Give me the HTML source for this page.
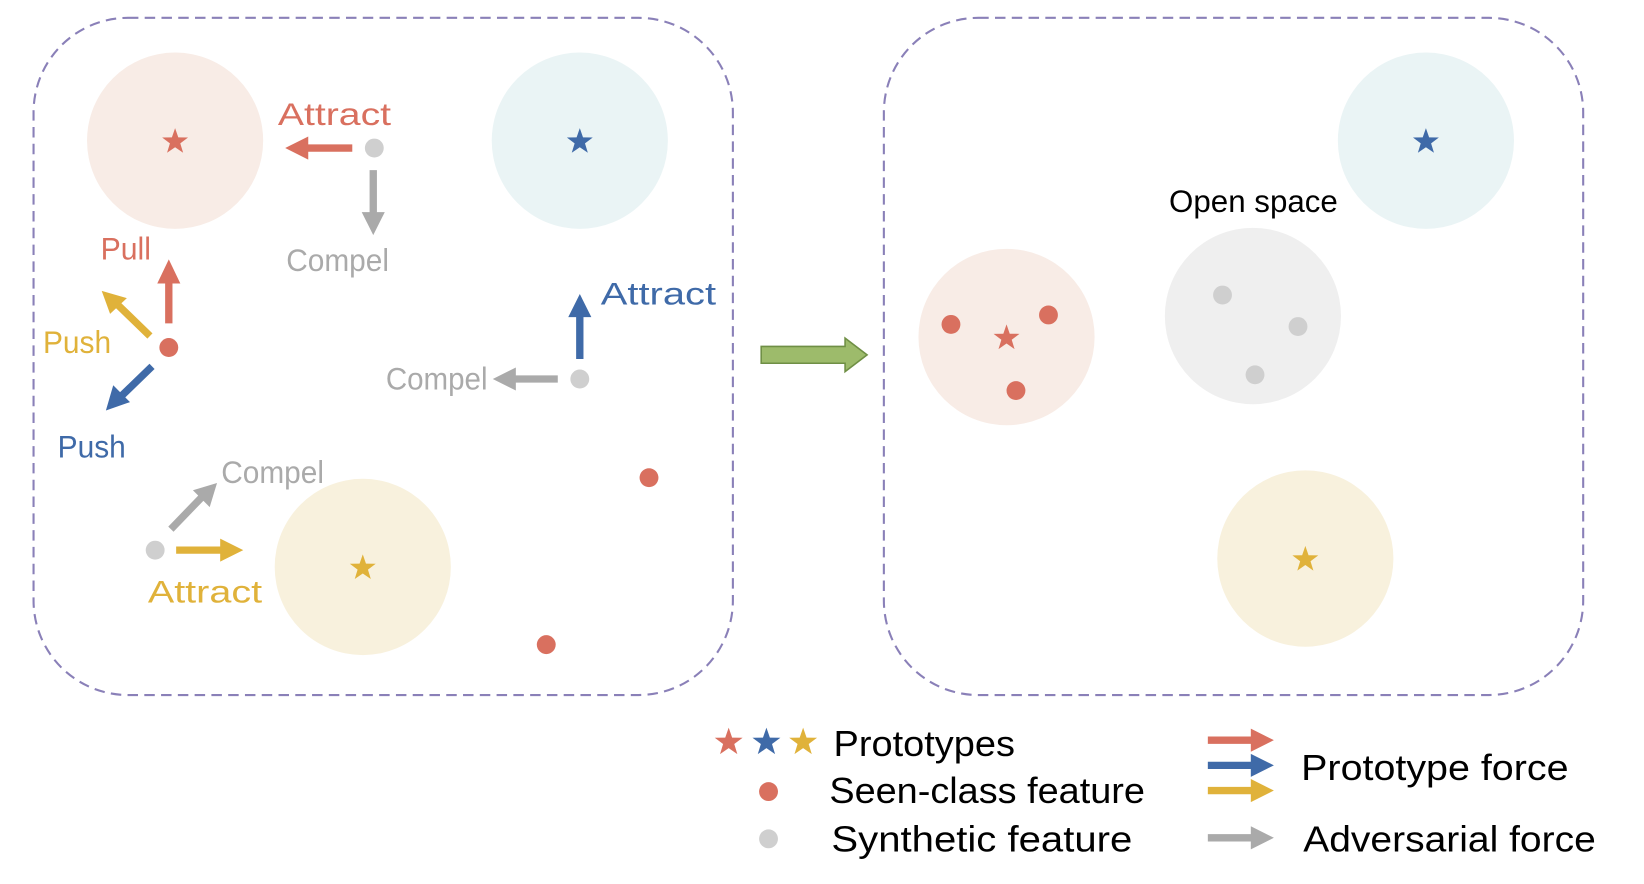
<!DOCTYPE html>
<html><head><style>
html,body{margin:0;padding:0;background:#fff;}
svg{display:block;}
text{font-family:"Liberation Sans Narrow","Liberation Sans",sans-serif;}
</style></head><body>
<svg width="1644" height="884" viewBox="0 0 1568 842" preserveAspectRatio="none" xmlns="http://www.w3.org/2000/svg">
<defs>
<symbol id="st" viewBox="-10 -10 20 20"><polygon points="0,-10 2.35,-3.2 9.5,-3.1 3.8,1.2 5.9,8.1 0,4 -5.9,8.1 -3.8,1.2 -9.5,-3.1 -2.35,-3.2" /></symbol>
</defs>
<rect x="32" y="17" width="667" height="645" rx="90" fill="none" stroke="#8a80b8" stroke-width="2" stroke-dasharray="10,6"/>
<rect x="843" y="17" width="667" height="645" rx="90" fill="none" stroke="#8a80b8" stroke-width="2" stroke-dasharray="10,6"/>
<circle cx="167" cy="134" r="84" fill="#f8ece6"/>
<circle cx="553" cy="134" r="84" fill="#eaf4f5"/>
<circle cx="346" cy="540" r="84" fill="#f8f1dd"/>
<circle cx="960" cy="321" r="84" fill="#f8ece6"/>
<circle cx="1195" cy="301" r="84" fill="#efefef"/>
<circle cx="1360" cy="134" r="84" fill="#eaf4f5"/>
<circle cx="1245" cy="532" r="84" fill="#f8f1dd"/>
<use href="#st" x="154" y="122" width="26" height="26" fill="#d9705f"/>
<use href="#st" x="540" y="122" width="26" height="26" fill="#3f6aa8"/>
<use href="#st" x="333" y="528" width="26" height="26" fill="#e0b23a"/>
<use href="#st" x="947" y="309" width="26" height="26" fill="#d9705f"/>
<use href="#st" x="1347" y="122" width="26" height="26" fill="#3f6aa8"/>
<use href="#st" x="1232" y="520" width="26" height="26" fill="#e0b23a"/>
<g fill="#d9705f">
<circle cx="161" cy="331" r="9"/><circle cx="619" cy="455" r="9"/><circle cx="521" cy="614" r="9"/>
<circle cx="907" cy="309" r="9"/><circle cx="1000" cy="300" r="9"/><circle cx="969" cy="372" r="9"/>
<circle cx="733" cy="754" r="9"/>
</g>
<g fill="#cfcfcf">
<circle cx="357" cy="141" r="9"/><circle cx="553" cy="361" r="9"/><circle cx="148" cy="524" r="9"/>
<circle cx="1166" cy="281" r="9"/><circle cx="1238" cy="311" r="9"/><circle cx="1197" cy="357" r="9"/>
<circle cx="733" cy="799" r="9"/>
</g>
<g stroke-width="7" fill="none">
<line x1="336" y1="141" x2="292" y2="141" stroke="#d9705f"/>
<line x1="356" y1="162" x2="356" y2="205" stroke="#aaa"/>
<line x1="161" y1="308" x2="161" y2="268" stroke="#d9705f"/>
<line x1="143" y1="320" x2="112" y2="290" stroke="#e0b23a"/>
<line x1="145" y1="349" x2="116" y2="377" stroke="#3f6aa8"/>
<line x1="553" y1="342" x2="553" y2="300" stroke="#3f6aa8"/>
<line x1="532" y1="361" x2="490" y2="361" stroke="#aaa"/>
<line x1="163" y1="504" x2="192" y2="474" stroke="#aaa"/>
<line x1="168" y1="524" x2="212" y2="524" stroke="#e0b23a"/>
<line x1="1152" y1="705" x2="1195" y2="705" stroke="#d9705f"/>
<line x1="1152" y1="729" x2="1195" y2="729" stroke="#3f6aa8"/>
<line x1="1152" y1="753" x2="1195" y2="753" stroke="#e0b23a"/>
<line x1="1152" y1="798" x2="1195" y2="798" stroke="#aaa"/>
</g>
<polygon points="272,141 294,130 294,152" fill="#d9705f"/>
<polygon points="356,224 345,202 367,202" fill="#aaa"/>
<polygon points="161,247 150,270 172,270" fill="#d9705f"/>
<polygon points="97,277 121,284 105,299" fill="#e0b23a"/>
<polygon points="101,391 108,367 124,383" fill="#3f6aa8"/>
<polygon points="553,280 542,302 564,302" fill="#3f6aa8"/>
<polygon points="470,361 492,350 492,372" fill="#aaa"/>
<polygon points="207,460 200,483 184,467" fill="#aaa"/>
<polygon points="232,524 210,513 210,535" fill="#e0b23a"/>
<polygon points="1215,705 1193,694 1193,716" fill="#d9705f"/>
<polygon points="1215,729 1193,718 1193,740" fill="#3f6aa8"/>
<polygon points="1215,753 1193,742 1193,764" fill="#e0b23a"/>
<polygon points="1215,798 1193,787 1193,809" fill="#aaa"/>
<polygon points="726,330 806,330 806,322 827,338 806,354 806,346 726,346" fill="#9dbb6b" stroke="#6f8f45" stroke-width="1.5"/>
<use href="#st" x="681" y="693" width="28" height="28" fill="#d9705f"/>
<use href="#st" x="717" y="693" width="28" height="28" fill="#3f6aa8"/>
<use href="#st" x="752" y="693" width="28" height="28" fill="#e0b23a"/>
<g font-size="30" lengthAdjust="spacingAndGlyphs">
<text x="265" y="119" fill="#d9705f" textLength="108" lengthAdjust="spacingAndGlyphs">Attract</text>
<text x="273" y="258" fill="#aaa" textLength="98" lengthAdjust="spacingAndGlyphs">Compel</text>
<text x="96" y="247" fill="#d9705f" textLength="48" lengthAdjust="spacingAndGlyphs">Pull</text>
<text x="41" y="336" fill="#e0b23a" textLength="65" lengthAdjust="spacingAndGlyphs">Push</text>
<text x="55" y="436" fill="#3f6aa8" textLength="65" lengthAdjust="spacingAndGlyphs">Push</text>
<text x="573" y="290" fill="#3f6aa8" textLength="110" lengthAdjust="spacingAndGlyphs">Attract</text>
<text x="368" y="371" fill="#aaa" textLength="97" lengthAdjust="spacingAndGlyphs">Compel</text>
<text x="211" y="460" fill="#aaa" textLength="98" lengthAdjust="spacingAndGlyphs">Compel</text>
<text x="141" y="574" fill="#e0b23a" textLength="109" lengthAdjust="spacingAndGlyphs">Attract</text>
<text x="1115" y="202" fill="#000" textLength="161" lengthAdjust="spacingAndGlyphs">Open space</text>
</g>
<g font-size="34" fill="#000">
<text x="795" y="720" textLength="173" lengthAdjust="spacingAndGlyphs">Prototypes</text>
<text x="791" y="765" textLength="301" lengthAdjust="spacingAndGlyphs">Seen-class feature</text>
<text x="793" y="811" textLength="287" lengthAdjust="spacingAndGlyphs">Synthetic feature</text>
<text x="1241" y="743" textLength="255" lengthAdjust="spacingAndGlyphs">Prototype force</text>
<text x="1243" y="811" textLength="279" lengthAdjust="spacingAndGlyphs">Adversarial force</text>
</g>
</svg>
</body></html>
